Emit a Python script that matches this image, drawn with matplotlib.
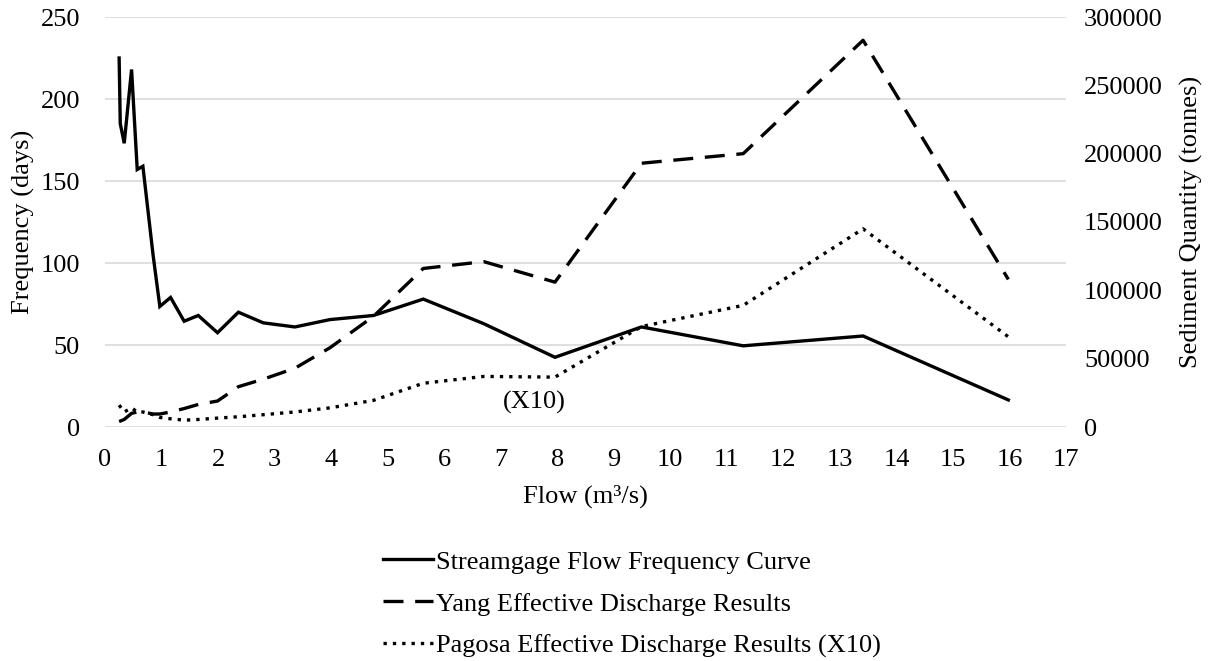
import numpy as np
import matplotlib
matplotlib.use('Agg')
import matplotlib.pyplot as plt

plt.rcParams['font.family'] = ['Liberation Serif', 'DejaVu Serif']
plt.rcParams['font.size'] = 19

# Streamgage flow frequency curve (left axis, days)
flow_q = [0.25, 0.27, 0.34, 0.47, 0.57, 0.67, 0.85, 0.97, 1.16, 1.40, 1.65, 1.99,
          2.36, 2.80, 3.36, 3.98, 4.75, 5.63, 6.70, 7.96, 9.49, 11.29, 13.41, 15.98]
freq_days = [225, 185, 173, 218, 157, 159, 105, 73.5, 79, 64.5, 68, 57.5,
             70, 63.5, 61, 65.5, 68, 78, 63, 42.5, 61, 49.5, 55.5, 16.5]

# effective discharge results (right axis, tonnes)
sed_q = [0.25, 0.34, 0.47, 0.57, 0.67, 0.85, 0.97, 1.16, 1.40, 1.65, 1.99,
         2.36, 2.80, 3.36, 3.98, 4.75, 5.63, 6.70, 7.96, 9.49, 11.29, 13.41, 15.98]
yang = [4000, 5500, 10000, 11000, 11000, 9500, 9500, 11000, 13500, 16500, 19000,
        29500, 35000, 43000, 58000, 81000, 116000, 121000, 106000, 193000, 200000, 283000, 108000]
pagosa = [16000, 11000, 14000, 11000, 11000, 9000, 7000, 6000, 5000, 5500, 6500,
          7500, 9000, 11000, 14000, 19500, 32000, 37000, 36500, 73500, 89000, 145000, 66000]

fig = plt.figure(figsize=(12.08, 6.61), dpi=100)
ax = fig.add_axes([105/1208, 1-427/661, 961/1208, 410/661])
ax2 = ax.twinx()

l1, = ax.plot(flow_q, freq_days, color='black', lw=2.4, solid_joinstyle='miter')
l2, = ax2.plot(sed_q, yang, color='black', lw=2.4, linestyle=(0, (6, 3.5)))
l3, = ax2.plot(sed_q, pagosa, color='black', lw=2.4, linestyle=(0, (1, 1.8)))

ax.set_xlim(0, 17)
ax.set_xticks(np.arange(0, 18, 1))
ax.set_ylim(0, 250)
ax.set_yticks(np.arange(0, 251, 50))
ax2.set_ylim(0, 300000)
ax2.set_yticks(np.arange(0, 300001, 50000))

ax.grid(axis='y', color='#d9d9d9', lw=1.2)
ax.set_axisbelow(True)
for a in (ax, ax2):
    for s in a.spines.values():
        s.set_visible(False)
ax.tick_params(axis='y', length=0, pad=18)
ax.tick_params(axis='x', length=0, pad=15.5)
ax2.tick_params(axis='y', length=0, pad=13)

ax.set_xlabel('Flow (m³/s)', labelpad=10)
ax.set_ylabel('Frequency (days)', labelpad=4)
ax2.set_ylabel('Sediment Quantity (tonnes)', labelpad=12)

ax.text(7.6, 15, '(X10)', ha='center', va='center')

fig.legend([l1, l2, l3],
           ['Streamgage Flow Frequency Curve', 'Yang Effective Discharge Results',
            'Pagosa Effective Discharge Results (X10)'],
           loc='upper left', bbox_to_anchor=(370/1208, 1-537/661), frameon=False,
           handlelength=1.9, handletextpad=0.1, labelspacing=0.7, borderpad=0)

fig.savefig('out.png', dpi=100)
